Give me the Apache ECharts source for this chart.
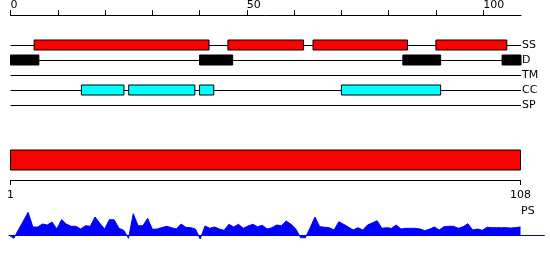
<!DOCTYPE html>
<html>
<head>
<meta charset="utf-8">
<script src="https://cdn.jsdelivr.net/npm/echarts@6/dist/echarts.min.js"></script>
<style>html,body{margin:0;padding:0;background:#fff}#c{width:550px;height:260px}</style>
</head>
<body>
<div id="c"></div>
<script>
// ---- data ----
var tracks = ['SS', 'D', 'TM', 'CC', 'SP'];
var topTicks = [0, 10, 20, 30, 40, 50, 60, 70, 80, 90, 100];
var topLabels = [0, 50, 100];
var seqTicks = [1, 108];
var ssSegments = [[5, 42], [46, 62], [64, 84], [90, 105]];
var dSegments = [[0, 6], [40, 47], [83, 91], [104, 108]];
var tmSegments = [];
var ccSegments = [[15, 24], [25, 39], [40, 43], [70, 91]];
var spSegments = [];
var sequenceRange = [[1, 108]];
var psValues = [
  0.5, -2.7, 6.0, 14.6, 23.3, 8.6, 8.6, 11.6, 10.6, 13.6,
  6.6, 15.9, 11.6, 9.3, 9.3, 6.6, 9.9, 9.3, 18.6, 12.3,
  6.6, 15.9, 15.9, 7.3, 5.3, -2.7, 21.9, 9.9, 9.9, 17.3,
  6.3, 6.6, 8.0, 9.3, 7.9, 6.6, 11.6, 8.3, 7.9, 6.6,
  -3.4, 9.6, 7.3, 8.6, 6.6, 5.3, 11.3, 8.6, 11.3, 7.3,
  9.6, 11.3, 8.9, 10.3, 6.6, 7.9, 10.6, 9.9, 14.6, 11.3,
  6.6, -2.1, -2.1, 7.9, 18.6, 8.9, 8.4, 7.9, 5.6, 13.9,
  11.3, 8.5, 5.6, 7.9, 5.6, 10.6, 12.7, 14.9, 7.3, 7.9,
  7.3, 10.6, 6.6, 7.3, 7.3, 7.3, 6.6, 4.9, 6.5, 8.6,
  5.6, 8.9, 9.3, 9.3, 7.3, 8.9, 11.9, 5.6, 6.6, 5.3,
  8.3, 7.9, 7.9, 7.9, 7.9, 7.5, 8.0, 8.6
];

// ---- chart ----
var FONT = 'DejaVu Sans';
var chart = echarts.init(document.getElementById('c'), null, {renderer: 'canvas'});

function segData(segs, trackIdx) {
  return segs.map(function (s) { return [s[0], s[1], trackIdx]; });
}
function boxRenderer(fill) {
  return function (params, api) {
    var a = api.coord([api.value(0), api.value(2)]);
    var b = api.coord([api.value(1), api.value(2)]);
    var h = 10;
    return {
      type: 'rect',
      shape: {x: a[0], y: a[1] - h / 2, width: b[0] - a[0], height: h},
      style: {fill: fill, stroke: '#000', lineWidth: 1}
    };
  };
}
function trackSeries(segs, idx, fill) {
  return {
    type: 'custom', xAxisIndex: 0, yAxisIndex: 0,
    renderItem: boxRenderer(fill),
    encode: {x: [0, 1], y: 2},
    data: segData(segs, idx), silent: true, z: 5
  };
}
var psData = psValues.map(function (v, i) { return [i + 1, v]; });

var option = {
  animation: false,
  textStyle: {fontFamily: FONT},
  title: {
    text: 'PS', left: 521, top: 206, padding: 0,
    textStyle: {fontFamily: FONT, fontSize: 11, fontWeight: 'normal', color: '#000'}
  },
  grid: [
    {left: 10.5, width: 510.5, top: 45, height: 60},
    {left: 10.5, width: 510, top: 150, height: 20},
    {left: 9, width: 535.4, top: 210.6, height: 30}
  ],
  xAxis: [
    {
      gridIndex: 0, type: 'value', min: 0, max: 108, position: 'top', offset: 30,
      axisLine: {show: true, lineStyle: {color: '#000', width: 1}},
      axisTick: {show: true, length: 5, customValues: topTicks, lineStyle: {color: '#000'}},
      axisLabel: {show: true, customValues: topLabels, align: 'left', margin: 4,
        fontSize: 11, color: '#000', fontFamily: FONT},
      splitLine: {show: false}
    },
    {
      gridIndex: 1, type: 'value', min: 1, max: 108, position: 'bottom', offset: 10,
      axisLine: {show: true, lineStyle: {color: '#000', width: 1}},
      axisTick: {show: true, length: 5, customValues: seqTicks, lineStyle: {color: '#000'}},
      axisLabel: {show: true, customValues: seqTicks, margin: 10,
        fontSize: 11, color: '#000', fontFamily: FONT},
      splitLine: {show: false}
    },
    {
      gridIndex: 2, type: 'value', min: 1, max: 113,
      axisLine: {show: true, onZero: true, lineStyle: {color: '#0000ff', width: 1}},
      axisTick: {show: false}, axisLabel: {show: false}, splitLine: {show: false}
    }
  ],
  yAxis: [
    {
      gridIndex: 0, type: 'category', data: tracks, inverse: true, boundaryGap: false,
      position: 'right',
      axisLine: {show: false}, axisTick: {show: false},
      axisLabel: {show: true, margin: 1, fontSize: 11, color: '#000', fontFamily: FONT},
      splitLine: {show: true, lineStyle: {color: '#000', width: 1}}
    },
    {
      gridIndex: 1, type: 'category', data: ['sequence'], show: false
    },
    {
      gridIndex: 2, type: 'value', min: -5, max: 25, show: false
    }
  ],
  series: [
    trackSeries(ssSegments, 0, '#ff0000'),
    trackSeries(dSegments, 1, '#000000'),
    trackSeries(tmSegments, 2, '#ffff00'),
    trackSeries(ccSegments, 3, '#00ffff'),
    trackSeries(spSegments, 4, '#00ff00'),
    {
      type: 'custom', xAxisIndex: 1, yAxisIndex: 1, silent: true,
      encode: {x: [0, 1]},
      data: sequenceRange,
      renderItem: function (params, api) {
        var a = api.coord([api.value(0), 0]);
        var b = api.coord([api.value(1), 0]);
        var band = api.size([0, 1])[1];
        return {
          type: 'rect',
          shape: {x: a[0], y: a[1] - band / 2, width: b[0] - a[0], height: band},
          style: {fill: '#ff0000', stroke: '#000', lineWidth: 1}
        };
      }
    },
    {
      type: 'line', xAxisIndex: 2, yAxisIndex: 2, data: psData,
      showSymbol: false, symbol: 'none', silent: true,
      lineStyle: {color: '#0000ff', width: 1},
      areaStyle: {color: '#0000ff', opacity: 1}
    }
  ]
};
chart.setOption(option);
</script>
</body>
</html>
